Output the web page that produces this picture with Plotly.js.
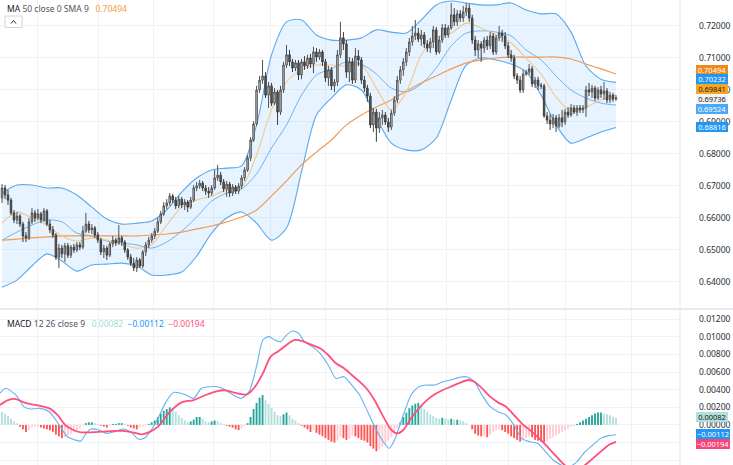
<!DOCTYPE html>
<html><head><meta charset="utf-8">
<script src="https://cdn.plot.ly/plotly-3.0.1.min.js"></script>
<style>html,body{margin:0;padding:0;background:#fff;}#chart{width:733px;height:465px;}</style>
</head><body><div id="chart"></div>
<script>
// ---- Candles (daily OHLC) ----
const open = [
0.6662,0.6693,0.6671,0.6655,0.6615,0.6593,0.6605,0.6580,0.6543,0.6537,
0.6587,0.6615,0.6599,0.6612,0.6593,0.6621,0.6580,0.6562,0.6546,0.6477,
0.6505,0.6487,0.6512,0.6483,0.6508,0.6499,0.6515,0.6508,0.6558,0.6580,
0.6562,0.6568,0.6546,0.6530,0.6493,0.6505,0.6483,0.6518,0.6530,0.6521,
0.6537,0.6524,0.6499,0.6477,0.6458,0.6443,0.6468,0.6449,0.6493,0.6515,
0.6530,0.6543,0.6558,0.6587,0.6612,0.6637,0.6646,0.6668,0.6655,0.6637,
0.6658,0.6640,0.6649,0.6633,0.6655,0.6693,0.6699,0.6708,0.6693,0.6683,
0.6677,0.6693,0.6724,0.6733,0.6712,0.6690,0.6705,0.6677,0.6696,0.6683,
0.6699,0.6724,0.6749,0.6787,0.6843,0.6893,0.6999,0.7030,0.7043,0.6983,
0.7012,0.6958,0.6993,0.6930,0.6999,0.7077,0.7109,0.7087,0.7068,0.7084,
0.7046,0.7087,0.7074,0.7099,0.7080,0.7118,0.7102,0.7118,0.7087,0.7037,
0.7062,0.7012,0.7024,0.7109,0.7162,0.7143,0.7055,0.7087,0.7030,0.7105,
0.7093,0.7030,0.7005,0.6980,0.6890,0.6930,0.6880,0.6912,0.6921,0.6899,
0.6883,0.6927,0.6968,0.7030,0.7062,0.7087,0.7118,0.7149,0.7168,0.7177,
0.7158,0.7171,0.7143,0.7130,0.7149,0.7187,0.7118,0.7155,0.7193,0.7171,
0.7193,0.7234,0.7212,0.7237,0.7224,0.7243,0.7255,0.7224,0.7155,0.7124,
0.7143,0.7130,0.7155,0.7137,0.7168,0.7118,0.7162,0.7177,0.7168,0.7137,
0.7109,0.7099,0.7043,0.7030,0.6999,0.7049,0.7055,0.7065,0.7018,0.7030,
0.7012,0.7012,0.6918,0.6905,0.6893,0.6912,0.6887,0.6912,0.6899,0.6930,
0.6921,0.6943,0.6930,0.6943,0.6937,0.6943,0.6999,0.6993,0.7005,0.6974,
0.6999,0.6987,0.6996,0.6968,0.6983,0.6971];
const high = [
0.6705,0.6702,0.6687,0.6662,0.6624,0.6618,0.6612,0.6587,0.6555,0.6599,
0.6630,0.6624,0.6627,0.6618,0.6630,0.6627,0.6593,0.6574,0.6552,0.6518,
0.6515,0.6521,0.6521,0.6515,0.6518,0.6524,0.6524,0.6574,0.6615,0.6590,
0.6580,0.6574,0.6555,0.6537,0.6515,0.6512,0.6524,0.6543,0.6537,0.6577,
0.6543,0.6530,0.6505,0.6487,0.6474,0.6477,0.6474,0.6499,0.6524,0.6540,
0.6552,0.6568,0.6599,0.6621,0.6649,0.6658,0.6677,0.6674,0.6665,0.6668,
0.6665,0.6658,0.6655,0.6665,0.6702,0.6712,0.6718,0.6715,0.6702,0.6696,
0.6702,0.6749,0.6765,0.6743,0.6721,0.6715,0.6712,0.6705,0.6702,0.6708,
0.6733,0.6758,0.6796,0.6852,0.6902,0.7012,0.7043,0.7093,0.7055,0.7024,
0.7021,0.7005,0.6999,0.7012,0.7087,0.7140,0.7124,0.7096,0.7093,0.7093,
0.7096,0.7105,0.7109,0.7112,0.7134,0.7130,0.7127,0.7124,0.7096,0.7074,
0.7071,0.7033,0.7124,0.7212,0.7180,0.7155,0.7102,0.7099,0.7130,0.7124,
0.7102,0.7043,0.7015,0.6990,0.6943,0.6940,0.6930,0.6937,0.6930,0.6912,
0.6937,0.6980,0.7043,0.7074,0.7099,0.7130,0.7162,0.7199,0.7218,0.7193,
0.7187,0.7180,0.7155,0.7162,0.7199,0.7196,0.7168,0.7205,0.7205,0.7202,
0.7271,0.7255,0.7249,0.7249,0.7262,0.7271,0.7268,0.7234,0.7168,0.7155,
0.7152,0.7165,0.7168,0.7180,0.7177,0.7171,0.7199,0.7187,0.7180,0.7149,
0.7124,0.7109,0.7052,0.7043,0.7062,0.7062,0.7080,0.7074,0.7040,0.7040,
0.7021,0.7018,0.6930,0.6924,0.6924,0.6921,0.6924,0.6937,0.6940,0.6946,
0.6955,0.6952,0.6952,0.6952,0.6952,0.7012,0.7021,0.7015,0.7012,0.7008,
0.7012,0.7024,0.7005,0.6993,0.6990,0.6983];
const low = [
0.6646,0.6658,0.6640,0.6608,0.6583,0.6580,0.6571,0.6524,0.6524,0.6530,
0.6580,0.6587,0.6593,0.6583,0.6587,0.6574,0.6552,0.6537,0.6468,0.6443,
0.6474,0.6462,0.6474,0.6474,0.6490,0.6493,0.6499,0.6502,0.6552,0.6552,
0.6549,0.6537,0.6521,0.6483,0.6474,0.6468,0.6477,0.6508,0.6512,0.6515,
0.6512,0.6490,0.6468,0.6449,0.6433,0.6430,0.6443,0.6443,0.6480,0.6505,
0.6521,0.6533,0.6552,0.6580,0.6605,0.6627,0.6637,0.6646,0.6627,0.6630,
0.6630,0.6624,0.6618,0.6627,0.6649,0.6683,0.6690,0.6683,0.6671,0.6662,
0.6668,0.6687,0.6715,0.6702,0.6680,0.6665,0.6665,0.6668,0.6674,0.6674,
0.6690,0.6715,0.6743,0.6777,0.6837,0.6887,0.6990,0.7018,0.6974,0.6943,
0.6949,0.6952,0.6890,0.6921,0.6990,0.7068,0.7074,0.7055,0.7058,0.7030,
0.7033,0.7062,0.7065,0.7068,0.7052,0.7087,0.7093,0.7074,0.7024,0.7012,
0.6999,0.6993,0.7012,0.7099,0.7124,0.7037,0.7024,0.7018,0.7021,0.7074,
0.7018,0.6993,0.6962,0.6880,0.6868,0.6837,0.6865,0.6890,0.6890,0.6868,
0.6874,0.6918,0.6958,0.7018,0.7043,0.7074,0.7105,0.7137,0.7155,0.7149,
0.7137,0.7130,0.7118,0.7115,0.7130,0.7109,0.7112,0.7146,0.7162,0.7162,
0.7187,0.7199,0.7199,0.7212,0.7212,0.7230,0.7212,0.7143,0.7105,0.7099,
0.7087,0.7115,0.7124,0.7127,0.7109,0.7109,0.7152,0.7149,0.7127,0.7099,
0.7087,0.7033,0.7018,0.6990,0.6990,0.7043,0.7046,0.7008,0.7005,0.6999,
0.7002,0.6912,0.6893,0.6874,0.6880,0.6868,0.6880,0.6883,0.6890,0.6912,
0.6915,0.6924,0.6918,0.6927,0.6927,0.6915,0.6980,0.6974,0.6965,0.6968,
0.6974,0.6968,0.6958,0.6958,0.6962,0.6965];
const close = [
0.6693,0.6671,0.6655,0.6615,0.6593,0.6605,0.6580,0.6543,0.6537,0.6587,
0.6615,0.6599,0.6612,0.6593,0.6621,0.6580,0.6562,0.6546,0.6477,0.6505,
0.6487,0.6512,0.6483,0.6508,0.6499,0.6515,0.6508,0.6558,0.6580,0.6562,
0.6568,0.6546,0.6530,0.6493,0.6505,0.6483,0.6518,0.6530,0.6521,0.6537,
0.6524,0.6499,0.6477,0.6458,0.6443,0.6468,0.6449,0.6493,0.6515,0.6530,
0.6543,0.6558,0.6587,0.6612,0.6637,0.6646,0.6668,0.6655,0.6637,0.6658,
0.6640,0.6649,0.6633,0.6655,0.6693,0.6699,0.6708,0.6693,0.6683,0.6677,
0.6693,0.6724,0.6733,0.6712,0.6690,0.6705,0.6677,0.6696,0.6683,0.6699,
0.6724,0.6749,0.6787,0.6843,0.6893,0.6999,0.7030,0.7043,0.6983,0.7012,
0.6958,0.6993,0.6930,0.6999,0.7077,0.7109,0.7087,0.7068,0.7084,0.7046,
0.7087,0.7074,0.7099,0.7080,0.7118,0.7102,0.7118,0.7087,0.7037,0.7062,
0.7012,0.7024,0.7109,0.7162,0.7143,0.7055,0.7087,0.7030,0.7105,0.7093,
0.7030,0.7005,0.6980,0.6890,0.6930,0.6880,0.6912,0.6921,0.6899,0.6883,
0.6927,0.6968,0.7030,0.7062,0.7087,0.7118,0.7149,0.7168,0.7177,0.7158,
0.7171,0.7143,0.7130,0.7149,0.7187,0.7118,0.7155,0.7193,0.7171,0.7193,
0.7234,0.7212,0.7237,0.7224,0.7243,0.7255,0.7224,0.7155,0.7124,0.7143,
0.7130,0.7155,0.7137,0.7168,0.7118,0.7162,0.7177,0.7168,0.7137,0.7109,
0.7099,0.7043,0.7030,0.6999,0.7049,0.7055,0.7065,0.7018,0.7030,0.7012,
0.7012,0.6918,0.6905,0.6893,0.6912,0.6887,0.6912,0.6899,0.6930,0.6921,
0.6943,0.6930,0.6943,0.6937,0.6943,0.6999,0.6993,0.7005,0.6974,0.6999,
0.6987,0.6996,0.6968,0.6983,0.6971,0.6974];

// ---- Overlay lines, read every 5th bar ----
const lineIdx = [0,5,10,15,20,25,30,35,40,45,50,55,60,65,70,75,80,85,90,95,100,105,110,115,120,125,130,135,140,145,150,155,160,165,170,175,180,185,190,195,200,205];
const bbUpper = [0.6677,0.6702,0.6702,0.6693,0.6693,0.6671,0.6633,0.6596,0.6580,0.6583,0.6590,0.6624,0.6680,0.6724,0.6749,0.6755,0.6762,0.6890,0.7109,0.7212,0.7218,0.7171,0.7155,0.7155,0.7162,0.7187,0.7180,0.7177,0.7218,0.7265,0.7277,0.7271,0.7265,0.7265,0.7271,0.7249,0.7237,0.7237,0.7180,0.7074,0.7033,0.7023];
const bbBasis = [0.6530,0.6555,0.6577,0.6593,0.6587,0.6552,0.6543,0.6527,0.6521,0.6515,0.6505,0.6524,0.6558,0.6602,0.6652,0.6677,0.6690,0.6737,0.6818,0.6890,0.6983,0.7046,0.7065,0.7087,0.7080,0.7049,0.7005,0.6993,0.7018,0.7068,0.7137,0.7177,0.7184,0.7180,0.7168,0.7124,0.7093,0.7043,0.6999,0.6974,0.6958,0.6952];
const bbLower = [0.6383,0.6405,0.6449,0.6487,0.6465,0.6433,0.6452,0.6455,0.6458,0.6449,0.6421,0.6421,0.6430,0.6480,0.6552,0.6599,0.6618,0.6583,0.6530,0.6568,0.6743,0.6921,0.6974,0.7015,0.6999,0.6912,0.6833,0.6812,0.6812,0.6849,0.6968,0.7077,0.7099,0.7093,0.7080,0.7055,0.6983,0.6890,0.6833,0.6849,0.6868,0.6882];
const maFast = [0.6583,0.6618,0.6599,0.6577,0.6543,0.6527,0.6537,0.6530,0.6518,0.6505,0.6515,0.6577,0.6633,0.6655,0.6668,0.6687,0.6696,0.6796,0.6937,0.7024,0.7062,0.7077,0.7077,0.7074,0.7077,0.7005,0.6937,0.6993,0.7109,0.7162,0.7177,0.7208,0.7193,0.7171,0.7146,0.7099,0.7049,0.6977,0.6933,0.6946,0.6968,0.6984];
const ma50 = [0.6530,0.6533,0.6537,0.6540,0.6543,0.6543,0.6543,0.6543,0.6543,0.6543,0.6546,0.6549,0.6555,0.6565,0.6574,0.6587,0.6602,0.6624,0.6668,0.6715,0.6765,0.6805,0.6843,0.6890,0.6921,0.6946,0.6968,0.6996,0.7021,0.7043,0.7065,0.7084,0.7093,0.7099,0.7102,0.7102,0.7102,0.7102,0.7096,0.7080,0.7065,0.7049];

// ---- MACD ----
const macdIdx = [-0.7,1.3,4.6,7.3,9.2,12.5,15.8,19.1,21.8,24.4,26.4,27.7,29.7,32.3,35.0,37.6,40.3,42.9,45.5,47.5,49.5,52.1,54.8,57.4,61.4,64.0,66.6,69.3,71.9,74.6,77.2,79.8,82.5,85.1,87.1,89.1,91.1,93.0,95.0,97.0,99.0,101.0,103.6,106.2,108.9,111.5,114.2,116.8,119.4,122.1,124.7,127.3,129.3,131.3,134.0,136.6,139.2,141.9,144.5,147.2,149.8,152.4,155.1,157.7,160.3,163.0,165.6,168.3,170.9,173.5,176.2,178.8,181.5,184.1,186.7,189.4,192.0,194.7,197.3,199.9,202.6,205];
const macdVal = [0.00359,0.00416,0.00340,0.00207,0.00181,0.00188,0.00150,-0.00001,-0.00134,-0.00172,-0.00183,-0.00115,-0.00047,-0.00058,-0.00096,-0.00077,-0.00047,-0.00077,-0.00160,-0.00153,-0.00077,0.00075,0.00264,0.00370,0.00340,0.00302,0.00416,0.00434,0.00434,0.00397,0.00340,0.00302,0.00378,0.00681,0.00965,0.01003,0.00965,0.00946,0.01021,0.01067,0.01041,0.00946,0.00889,0.00813,0.00681,0.00529,0.00548,0.00453,0.00340,0.00150,-0.00039,-0.00191,-0.00266,-0.00153,0.00113,0.00340,0.00434,0.00453,0.00453,0.00491,0.00510,0.00537,0.00548,0.00491,0.00340,0.00207,0.00150,0.00113,-0.00001,-0.00153,-0.00191,-0.00209,-0.00304,-0.00399,-0.00456,-0.00475,-0.00418,-0.00304,-0.00228,-0.00153,-0.00122,-0.00112];
const sigIdx = [-0.7,2.0,4.6,7.3,9.9,12.5,15.8,18.5,21.1,23.8,26.4,29.7,33.7,37.6,40.3,43.6,46.8,49.5,52.1,56.1,60.0,64.0,68.0,71.9,74.6,78.5,81.8,84.5,87.1,89.7,92.4,95.0,97.7,100.3,103.0,106.2,108.9,111.5,114.2,116.8,119.4,122.1,124.7,127.3,130.0,132.0,134.0,136.6,139.2,141.9,144.5,147.2,149.8,152.4,155.7,157.7,160.3,163.0,165.6,168.3,170.9,173.5,176.2,178.8,181.5,184.1,186.7,189.4,192.0,194.7,197.3,199.9,202.6,205];
const sigVal = [0.00226,0.00282,0.00294,0.00256,0.00234,0.00219,0.00188,0.00113,-0.00001,-0.00058,-0.00084,-0.00084,-0.00077,-0.00069,-0.00069,-0.00084,-0.00107,-0.00077,-0.00020,0.00150,0.00256,0.00282,0.00340,0.00385,0.00393,0.00359,0.00347,0.00434,0.00586,0.00775,0.00840,0.00908,0.00965,0.00953,0.00915,0.00870,0.00794,0.00700,0.00643,0.00567,0.00491,0.00397,0.00264,0.00094,-0.00058,-0.00096,-0.00058,0.00075,0.00188,0.00282,0.00347,0.00397,0.00434,0.00472,0.00510,0.00491,0.00416,0.00321,0.00256,0.00207,0.00113,0.00018,-0.00058,-0.00134,-0.00228,-0.00323,-0.00418,-0.00501,-0.00532,-0.00456,-0.00380,-0.00304,-0.00228,-0.00194];
const hist = [
0.0015,0.0013,0.0010,0.0007,0.0004,0.0002,-0.0002,-0.0005,-0.0008,-0.0006,
-0.0003,-0.0002,-0.0002,-0.0003,-0.0004,-0.0005,-0.0006,-0.0008,-0.0011,-0.0013,
-0.0015,-0.0014,-0.0012,-0.0010,-0.0008,-0.0006,-0.0004,-0.0001,0.0002,0.0003,
0.0003,0.0002,0.0001,-0.0001,-0.0002,-0.0003,-0.0001,0.0001,0.0001,0.0002,
0.0002,0.0001,-0.0001,-0.0003,-0.0004,-0.0005,-0.0003,-0.0002,-0.0001,0.0001,
0.0003,0.0005,0.0009,0.0013,0.0016,0.0018,0.0020,0.0019,0.0015,0.0011,
0.0008,0.0005,0.0003,0.0004,0.0006,0.0009,0.0009,0.0007,0.0004,0.0003,
0.0004,0.0005,0.0004,0.0002,0.0001,-0.0001,-0.0002,-0.0003,-0.0005,-0.0006,
-0.0004,-0.0001,0.0002,0.0009,0.0018,0.0025,0.0031,0.0034,0.0028,0.0024,
0.0019,0.0015,0.0011,0.0010,0.0012,0.0014,0.0011,0.0007,0.0005,0.0002,
-0.0001,-0.0003,-0.0005,-0.0008,-0.0006,-0.0009,-0.0011,-0.0013,-0.0015,-0.0017,
-0.0019,-0.0020,-0.0018,-0.0013,-0.0015,-0.0017,-0.0016,-0.0012,-0.0013,-0.0015,
-0.0017,-0.0018,-0.0020,-0.0024,-0.0027,-0.0030,-0.0028,-0.0025,-0.0021,-0.0018,
-0.0014,-0.0009,-0.0004,0.0003,0.0009,0.0014,0.0019,0.0022,0.0024,0.0025,
0.0022,0.0018,0.0015,0.0012,0.0010,0.0008,0.0007,0.0008,0.0007,0.0006,
0.0007,0.0006,0.0006,0.0005,0.0004,0.0002,0.0000,-0.0005,-0.0010,-0.0012,
-0.0013,-0.0013,-0.0014,-0.0011,-0.0008,-0.0006,-0.0005,-0.0006,-0.0008,-0.0010,
-0.0013,-0.0015,-0.0017,-0.0019,-0.0018,-0.0015,-0.0013,-0.0014,-0.0017,-0.0018,
-0.0019,-0.0020,-0.0018,-0.0016,-0.0014,-0.0012,-0.0010,-0.0008,-0.0006,-0.0004,
-0.0002,-0.0001,0.0001,0.0003,0.0005,0.0007,0.0009,0.0011,0.0013,0.0014,
0.0014,0.0013,0.0012,0.0011,0.0009,0.00082];

// ---- Axis ticks ----
const priceTicks = [0.64,0.65,0.66,0.67,0.68,0.69,0.70,0.71,0.72];
const macdTicks = [-0.004,-0.002,0,0.002,0.004,0.006,0.008,0.010,0.012];
// the -0.00200 label sits hidden behind the value boxes in the reference
const macdTickText = ['\u22120.00400','','0.00000','0.00200','0.00400','0.00600','0.00800','0.01000','0.01200'];
const monthGrid = [11.85,32.3,50.55,70.6,89.5,107.85,128.55,148.45,169.2,188.3,210.35];

// ---- Layout helpers (pixel -> paper) ----
const W = 733, H = 465, PW = 680;
const px = x => x / PW;
const py = y => 1 - y / H;

const histColors = hist.map((v, i) => {
  const prev = i > 0 ? hist[i - 1] : Infinity;
  if (v >= 0) return v >= prev ? '#26a69a' : '#b2dfdb';
  return v < prev ? '#ff5252' : '#ffcdd2';
});

const bandLine = '#5aa9ee';
const traces = [
  {x: lineIdx, y: bbUpper, type: 'scatter', mode: 'lines', line: {color: bandLine, width: 1.1, shape: 'spline', smoothing: 0.8}, yaxis: 'y'},
  {x: lineIdx, y: bbLower, type: 'scatter', mode: 'lines', line: {color: bandLine, width: 1.1, shape: 'spline', smoothing: 0.8}, fill: 'tonexty', fillcolor: 'rgba(33,150,243,0.11)', yaxis: 'y'},
  {x: lineIdx, y: bbBasis, type: 'scatter', mode: 'lines', line: {color: '#6db3f2', width: 1, shape: 'spline', smoothing: 0.8}, yaxis: 'y'},
  {x: lineIdx, y: ma50, type: 'scatter', mode: 'lines', line: {color: '#f29b52', width: 1.2, shape: 'spline', smoothing: 0.8}, yaxis: 'y'},
  {x: lineIdx, y: maFast, type: 'scatter', mode: 'lines', line: {color: '#f2c98c', width: 1.1, shape: 'spline', smoothing: 0.8}, yaxis: 'y'},
  {type: 'candlestick', open: open, high: high, low: low, close: close, yaxis: 'y3', xaxis: 'x',
   increasing: {line: {color: '#505050', width: 1}, fillcolor: '#d4d4d4'},
   decreasing: {line: {color: '#3c3c3c', width: 1}, fillcolor: '#5e5e5e'},
   whiskerwidth: 0},
  {type: 'bar', y: hist, marker: {color: histColors, line: {width: 0}}, width: 0.62, yaxis: 'y2', xaxis: 'x'},
  {x: macdIdx, y: macdVal, type: 'scatter', mode: 'lines', line: {color: '#64b1f2', width: 1.1, shape: 'spline', smoothing: 0.7}, yaxis: 'y2'},
  {x: sigIdx, y: sigVal, type: 'scatter', mode: 'lines', line: {color: '#ff4f7b', width: 1.8, shape: 'spline', smoothing: 0.7}, yaxis: 'y2'}
];

const font = 'Noto Sans, Open Sans, sans-serif';
const tickFont = {family: font, size: 8.5, color: '#2a2e39'};
const priceRange = [0.63178, 0.72803];
const layout = {
  width: W, height: H,
  margin: {l: 0, r: W - PW, t: 0, b: 0},
  paper_bgcolor: '#ffffff', plot_bgcolor: '#ffffff',
  showlegend: false,
  font: {family: font, size: 8.5, color: '#2a2e39'},
  xaxis: {range: [-0.668, 226.38], tickvals: monthGrid, showticklabels: false, ticks: '',
          showgrid: true, gridcolor: '#f0f2f6', gridwidth: 1, zeroline: false, showline: false,
          rangeslider: {visible: false}, anchor: 'y2'},
  yaxis: {domain: [1 - 308 / H, 1], range: priceRange, side: 'right', tickvals: priceTicks,
          tickformat: '.5f', tickfont: tickFont, ticks: '', ticklabelstandoff: 18,
          showgrid: true, gridcolor: '#f0f2f6', zeroline: false, showline: false, anchor: 'x'},
  yaxis3: {overlaying: 'y', range: priceRange, visible: false, showgrid: false, anchor: 'x'},
  yaxis2: {domain: [0, 1 - 310 / H], range: [-0.004557, 0.013057], side: 'right', tickmode: 'array',
           tickvals: macdTicks, ticktext: macdTickText, tickfont: tickFont, ticks: '', ticklabelstandoff: 18,
           showgrid: true, gridcolor: '#f0f2f6', zeroline: false, showline: false, anchor: 'x'},
  shapes: [
    {type: 'line', xref: 'paper', yref: 'paper', x0: 0, x1: W / PW, y0: py(309), y1: py(309), line: {color: '#e0e3eb', width: 1.5}},
    {type: 'line', xref: 'paper', yref: 'paper', x0: 1, x1: 1, y0: 0, y1: 1, line: {color: '#e6e8ee', width: 1}},
    {type: 'rect', xref: 'paper', yref: 'paper', x0: px(5), x1: px(22), y0: py(27.5), y1: py(16), line: {color: '#d1d4dc', width: 1}, fillcolor: '#ffffff'},
    {type: 'path', xref: 'paper', yref: 'paper', path: `M ${px(11)} ${py(23.5)} L ${px(13.5)} ${py(20.5)} L ${px(16)} ${py(23.5)}`, line: {color: '#2a2e39', width: 1}}
  ],
  annotations: [
    {xref: 'paper', yref: 'paper', x: px(5), y: py(8.5), xanchor: 'left', yanchor: 'middle', showarrow: false,
     text: '<span style="color:#131722">MA</span> <span style="color:#50535e">50 close 0 SMA 9</span>   <span style="color:#f0a040">0.70494</span>',
     font: {family: font, size: 8.5}},
    {xref: 'paper', yref: 'paper', x: px(5), y: py(323), xanchor: 'left', yanchor: 'middle', showarrow: false,
     text: '<span style="color:#131722">MACD</span> <span style="color:#50535e">12 26 close 9</span>   <span style="color:#a7dcd5">0.00082</span>  <span style="color:#2196f3">\u22120.00112</span>  <span style="color:#ff4f7b">\u22120.00194</span>',
     font: {family: font, size: 8.5}}
  ]
};

// right-hand scale value boxes: [label text, centre value, background, text colour, box width px]
const tagX = px(696);
const priceTags = [
  ['0.70494', 0.70631, '#ee8a1e', '#ffffff', 32],
  ['0.70232', 0.70344, '#2196f3', '#ffffff', 32],
  ['0.69841', 0.70037, '#f6a623', '#1e1e1e', 32],
  ['0.69736', 0.69725, '#f4f4f4', '#131722', 32],
  ['0.69524', 0.69412, '#4aa8f5', '#ffffff', 32],
  ['0.68816', 0.68819, '#2196f3', '#ffffff', 32]
];
const macdTags = [
  ['0.00082', 0.000898, '#b2dfdb', '#131722', 32],
  ['\u22120.00112', -0.000977, '#2196f3', '#ffffff', 34],
  ['\u22120.00194', -0.002114, '#f7457a', '#ffffff', 34]
];
const addTag = (t, yref) => layout.annotations.push({xref: 'paper', yref: yref, x: tagX, y: t[1], xanchor: 'left', yanchor: 'middle',
  showarrow: false, text: t[0], bgcolor: t[2], font: {family: font, size: 7.5, color: t[3]},
  borderpad: 0, borderwidth: 0, width: t[4], height: 9.6, align: 'center', valign: 'middle'});
priceTags.forEach(t => addTag(t, 'y'));
macdTags.forEach(t => addTag(t, 'y2'));

Plotly.newPlot('chart', traces, layout, {staticPlot: true, displayModeBar: false});
</script>
</body></html>
